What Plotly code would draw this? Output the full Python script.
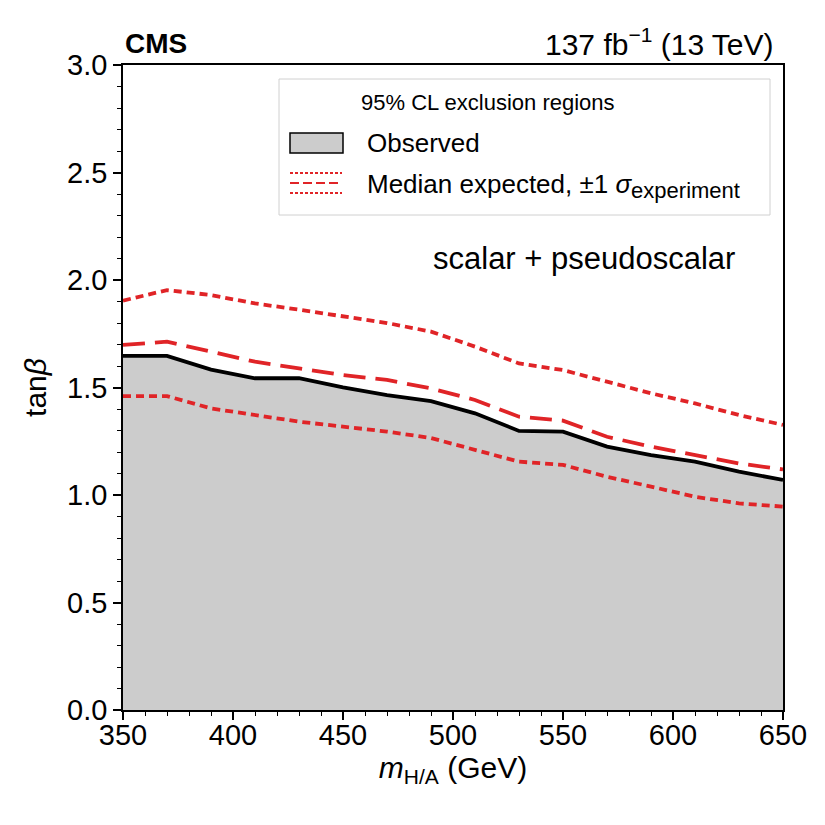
import plotly.graph_objects as go

mass = [350, 370, 390, 410, 430, 450, 470, 490, 510, 530, 550, 570, 590, 610, 630, 650]
observed = [1.647, 1.647, 1.583, 1.543, 1.543, 1.501, 1.465, 1.437, 1.380, 1.298, 1.295, 1.225, 1.186, 1.155, 1.109, 1.070]
expected = [1.698, 1.713, 1.667, 1.620, 1.589, 1.558, 1.535, 1.496, 1.442, 1.364, 1.346, 1.271, 1.225, 1.186, 1.147, 1.119]
exp_up = [1.904, 1.953, 1.930, 1.891, 1.862, 1.830, 1.800, 1.760, 1.690, 1.612, 1.581, 1.527, 1.473, 1.426, 1.372, 1.326]
exp_down = [1.460, 1.460, 1.403, 1.372, 1.341, 1.318, 1.295, 1.265, 1.212, 1.155, 1.140, 1.085, 1.039, 0.992, 0.961, 0.946]

RED = "#e02427"
FONT = "Liberation Sans, Arial, Helvetica, sans-serif"

fig = go.Figure()
fig.add_trace(go.Scatter(x=mass, y=observed, mode="lines", fill="tozeroy",
                         fillcolor="#cccccc", line=dict(color="black", width=3.8),
                         showlegend=False))
fig.add_trace(go.Scatter(x=mass, y=exp_up, mode="lines",
                         line=dict(color=RED, width=3.8, dash="8px,5px"), showlegend=False))
fig.add_trace(go.Scatter(x=mass, y=exp_down, mode="lines",
                         line=dict(color=RED, width=3.8, dash="8px,5px"), showlegend=False))
fig.add_trace(go.Scatter(x=mass, y=expected, mode="lines",
                         line=dict(color=RED, width=3.8, dash="22px,10px"), showlegend=False))

L, R, T, B = 123, 42, 65, 115
W = 825 - L - R
H = 825 - T - B

def px(x):
    return (x - L) / W

def py(y):
    return (825 - B - y) / H

shapes = [
    dict(type="rect", xref="paper", yref="paper", x0=px(279), x1=px(770), y0=py(215), y1=py(79),
         line=dict(color="#d0d0d0", width=1), fillcolor="rgba(255,255,255,0.9)", layer="above"),
    dict(type="rect", xref="paper", yref="paper", x0=px(290), x1=px(343), y0=py(153), y1=py(133),
         line=dict(color="black", width=1.5), fillcolor="#cccccc", layer="above"),
    dict(type="line", xref="paper", yref="paper", x0=px(290), x1=px(342), y0=py(173), y1=py(173),
         line=dict(color=RED, width=2, dash="3px,2px"), layer="above"),
    dict(type="line", xref="paper", yref="paper", x0=px(290), x1=px(342), y0=py(183), y1=py(183),
         line=dict(color=RED, width=2, dash="9px,4px"), layer="above"),
    dict(type="line", xref="paper", yref="paper", x0=px(290), x1=px(342), y0=py(193), y1=py(193),
         line=dict(color=RED, width=2, dash="3px,2px"), layer="above"),
]

annotations = [
    dict(text="<b>CMS</b>", xref="paper", yref="paper", x=0, y=py(43), xanchor="left", yanchor="middle",
         showarrow=False, font=dict(size=28, family=FONT, color="black")),
    dict(text="137 fb<sup>−1</sup> (13 TeV)", xref="paper", yref="paper", x=px(776), y=py(42),
         xanchor="right", yanchor="middle", showarrow=False, font=dict(size=30, family=FONT, color="black")),
    dict(text="95% CL exclusion regions", xref="paper", yref="paper", x=px(488), y=py(102),
         xanchor="center", yanchor="middle", showarrow=False, font=dict(size=22, family=FONT, color="black")),
    dict(text="Observed", xref="paper", yref="paper", x=px(365), y=py(143),
         xanchor="left", yanchor="middle", showarrow=False, font=dict(size=26, family=FONT, color="black")),
    dict(text="Median expected, ±1 <i>σ</i><sub><span style='font-size:22px'>experiment</span></sub>",
         xref="paper", yref="paper", x=px(365), y=py(186),
         xanchor="left", yanchor="middle", showarrow=False, font=dict(size=26, family=FONT, color="black")),
    dict(text="scalar + pseudoscalar", xref="paper", yref="paper", x=px(737), y=py(258),
         xanchor="right", yanchor="middle", showarrow=False, font=dict(size=31, family=FONT, color="black")),
]

axis_common = dict(showline=True, linecolor="black", linewidth=1.5, mirror=True,
                   ticks="outside", ticklen=8, tickwidth=1.5, tickcolor="black",
                   showgrid=False, zeroline=False,
                   tickfont=dict(size=29, family=FONT, color="black"))

fig.update_layout(
    width=825, height=825,
    margin=dict(l=L, r=R, t=T, b=B),
    plot_bgcolor="white", paper_bgcolor="white",
    shapes=shapes, annotations=annotations,
    xaxis=dict(range=[350, 650], tickvals=[350, 400, 450, 500, 550, 600, 650],
               ticklabelstandoff=-10,
               minor=dict(dtick=10, ticks="outside", ticklen=4, tickcolor="black", tickwidth=1),
               title=dict(text="<i>m</i><sub>H/A</sub> (GeV)", font=dict(size=30, family=FONT, color="black"), standoff=0),
               **axis_common),
    yaxis=dict(range=[0, 3.0], tickvals=[0, 0.5, 1.0, 1.5, 2.0, 2.5, 3.0], tickformat=".1f",
               minor=dict(dtick=0.1, ticks="outside", ticklen=4, tickcolor="black", tickwidth=1),
               title=dict(text="tan<i>β</i>", font=dict(size=30, family=FONT, color="black"), standoff=12),
               **axis_common),
)

fig.write_html("out.html")
